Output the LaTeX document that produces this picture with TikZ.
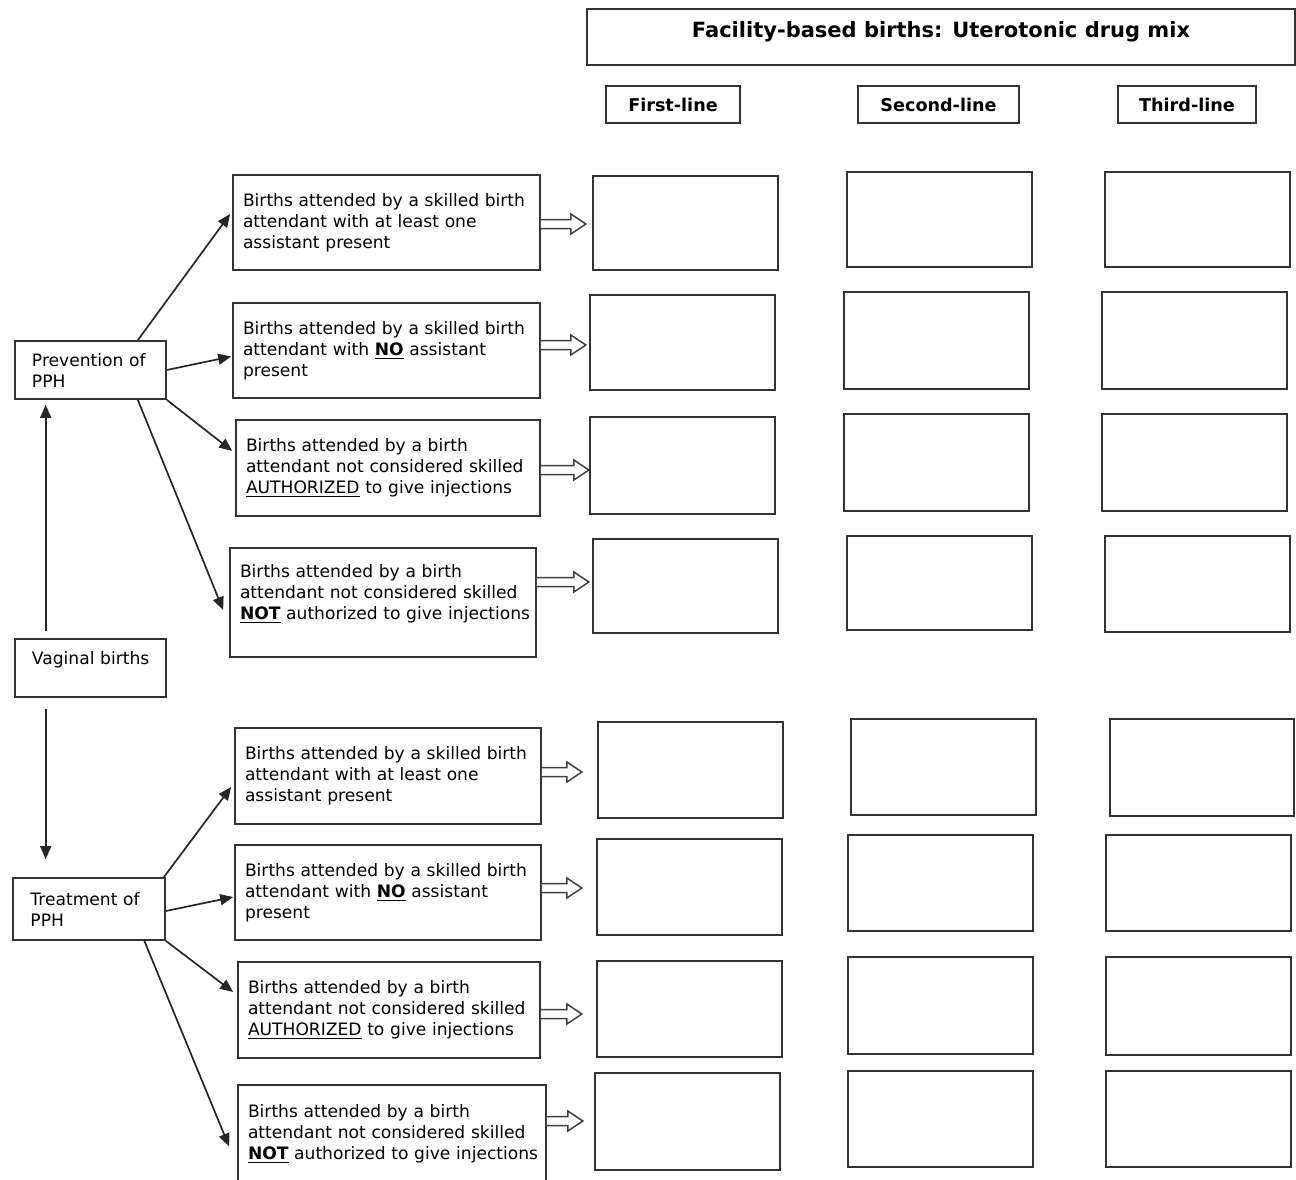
\documentclass[tikz,border=0pt]{standalone}
\usepackage{fontspec}
\setmainfont{DejaVu Sans}
\usetikzlibrary{arrows.meta,calc}

% one unbreakable line of box text
\newcommand\tline[1]{\mbox{#1}}
% hollow block arrow leaving a text box: node, vertical offset, length
\newcommand\hollowarrow[3]{%
  \draw[hollow] ($(#1.east)+(0,#2-4.5)$) -- ++(#3-15,0) -- ++(0,-5.5)
    -- ++(15,10) -- ++(-15,10) -- ++(0,-5.5) -- ++(15-#3,0);}

\begin{document}
\begin{tikzpicture}[x=0.5pt,y=-0.5pt,
  frame/.style={draw=black!80, line width=0.85pt, rectangle, inner sep=0pt},
  boxat/.style n args={4}{minimum width={0.5*(#3-(#1))*1pt},
    minimum height={0.5*(#4-(#2))*1pt}, at={({(#1+#3)/2},{(#2+#4)/2})}},
  textbox/.style={frame, align=left, font=\fontsize{8.55}{10.5}\selectfont},
  sidebox/.style={textbox, text width=58.5pt},
  title/.style={frame, font=\fontsize{10.5}{12}\selectfont\bfseries,
    text height=7pt, text depth=7pt},
  colhead/.style={frame, font=\fontsize{8.8}{10}\selectfont\bfseries},
  result/.style={frame},
  conn/.style={draw=black!85, line width=0.85pt, -{Triangle[length=6.5pt,width=5.5pt]}},
  hollow/.style={draw=black!75, line width=0.75pt, fill=white, line join=miter}]

\useasboundingbox (0,0) rectangle (1296,1179);

% column headings
\node[title, boxat={587}{9}{1295}{65}] (head) {Facility-based births: Uterotonic drug mix};
\node[colhead, boxat={606}{86}{740}{123}] (H1) {First-line};
\node[colhead, boxat={858}{86}{1019}{123}] (H2) {Second-line};
\node[colhead, boxat={1118}{86}{1256}{123}] (H3) {Third-line};

% left column
\node[sidebox, boxat={15}{341}{166}{399}] (PP) {\tline{Prevention of}\\\tline{PPH}};
\node[sidebox, boxat={15}{639}{166}{697}] (VB) {\tline{Vaginal births}\\\mbox{}};
\node[sidebox, boxat={13}{878}{165}{940}] (TP) {\tline{Treatment of}\\\tline{PPH}};

% attendance categories: prevention
\node[textbox, text width=143.5pt, boxat={233}{175}{540}{270}] (P1)
  {\tline{Births attended by a skilled birth}\\\tline{attendant with at least one}\\\tline{assistant present}};
\node[textbox, text width=143.5pt, boxat={233}{303}{540}{398}] (P2)
  {\tline{Births attended by a skilled birth}\\\tline{attendant with \underline{\textbf{NO}} assistant}\\\tline{present}};
\node[textbox, text width=142pt, boxat={236}{420}{540}{516}] (P3)
  {\tline{Births attended by a birth}\\\tline{attendant not considered skilled}\\\tline{\underline{AUTHORIZED} to give injections}};
\node[textbox, text width=143pt, boxat={230}{548}{536}{657}] (P4)
  {\tline{Births attended by a birth}\\\tline{attendant not considered skilled}\\\tline{\underline{\textbf{NOT}} authorized to give injections}\\\mbox{}};

% attendance categories: treatment
\node[textbox, text width=143pt, boxat={235}{728}{541}{824}] (T1)
  {\tline{Births attended by a skilled birth}\\\tline{attendant with at least one}\\\tline{assistant present}};
\node[textbox, text width=143pt, boxat={235}{845}{541}{940}] (T2)
  {\tline{Births attended by a skilled birth}\\\tline{attendant with \underline{\textbf{NO}} assistant}\\\tline{present}};
\node[textbox, text width=141pt, boxat={238}{962}{540}{1058}] (T3)
  {\tline{Births attended by a birth}\\\tline{attendant not considered skilled}\\\tline{\underline{AUTHORIZED} to give injections}};
\node[textbox, text width=144pt, boxat={238}{1085}{546}{1200}] (T4)
  {\tline{Births attended by a birth}\\\tline{attendant not considered skilled}\\\tline{\underline{\textbf{NOT}} authorized to give injections}\\\mbox{}};

% drug-mix cells: prevention
\node[result, boxat={593}{176}{778}{270}] (R11) {};
\node[result, boxat={847}{172}{1032}{267}] (R12) {};
\node[result, boxat={1105}{172}{1290}{267}] (R13) {};
\node[result, boxat={590}{295}{775}{390}] (R21) {};
\node[result, boxat={844}{292}{1029}{389}] (R22) {};
\node[result, boxat={1102}{292}{1287}{389}] (R23) {};
\node[result, boxat={590}{417}{775}{514}] (R31) {};
\node[result, boxat={844}{414}{1029}{511}] (R32) {};
\node[result, boxat={1102}{414}{1287}{511}] (R33) {};
\node[result, boxat={593}{539}{778}{633}] (R41) {};
\node[result, boxat={847}{536}{1032}{630}] (R42) {};
\node[result, boxat={1105}{536}{1290}{632}] (R43) {};

% drug-mix cells: treatment
\node[result, boxat={598}{722}{783}{818}] (S11) {};
\node[result, boxat={851}{719}{1036}{815}] (S12) {};
\node[result, boxat={1110}{719}{1294}{816}] (S13) {};
\node[result, boxat={597}{839}{782}{935}] (S21) {};
\node[result, boxat={848}{835}{1033}{931}] (S22) {};
\node[result, boxat={1106}{835}{1291}{931}] (S23) {};
\node[result, boxat={597}{961}{782}{1057}] (S31) {};
\node[result, boxat={848}{957}{1033}{1054}] (S32) {};
\node[result, boxat={1106}{957}{1291}{1055}] (S33) {};
\node[result, boxat={595}{1073}{780}{1170}] (S41) {};
\node[result, boxat={848}{1071}{1033}{1167}] (S42) {};
\node[result, boxat={1106}{1071}{1291}{1167}] (S43) {};

% vaginal births split into prevention and treatment
\coordinate (vx) at (45.7,0);
\draw[conn] ($(VB.north -| vx)+(0,-7)$) -- ($(PP.south -| vx)+(0,5)$);
\draw[conn] ($(VB.south -| vx)+(0,11)$) -- ($(TP.north -| vx)+(0,-18)$);

% prevention branches
\draw[conn] ($(PP.north west)!0.81!(PP.north east)$) -- ($(P1.west)+(-2,-8.5)$);
\draw[conn] (PP.east) -- ($(P2.west)+(-1,6)$);
\draw[conn] (PP.south east) -- ($(P3.west)+(-3,-17)$);
\draw[conn] ($(PP.south west)!0.81!(PP.south east)$) -- ($(P4.west)+(-6,7.5)$);

% treatment branches
\draw[conn] ($(TP.north east)+(-2,0)$) -- ($(T1.west)+(-3,11)$);
\draw[conn] ($(TP.east)+(0,2)$) -- ($(T2.west)+(-1,4.5)$);
\draw[conn] (TP.south east) -- ($(T3.west)+(-4,-18)$);
\draw[conn] ($(TP.south west)!0.86!(TP.south east)$) -- ($(T4.west)+(-8,4)$);

% block arrows to the first-line cells
\hollowarrow{P1}{1.5}{45}
\hollowarrow{P2}{-5.5}{45}
\hollowarrow{P3}{2}{48}
\hollowarrow{P4}{-20.5}{52}
\hollowarrow{T1}{-4}{40}
\hollowarrow{T2}{-4.5}{40}
\hollowarrow{T3}{4}{41}
\hollowarrow{T4}{-21.5}{36}

\end{tikzpicture}
\end{document}
